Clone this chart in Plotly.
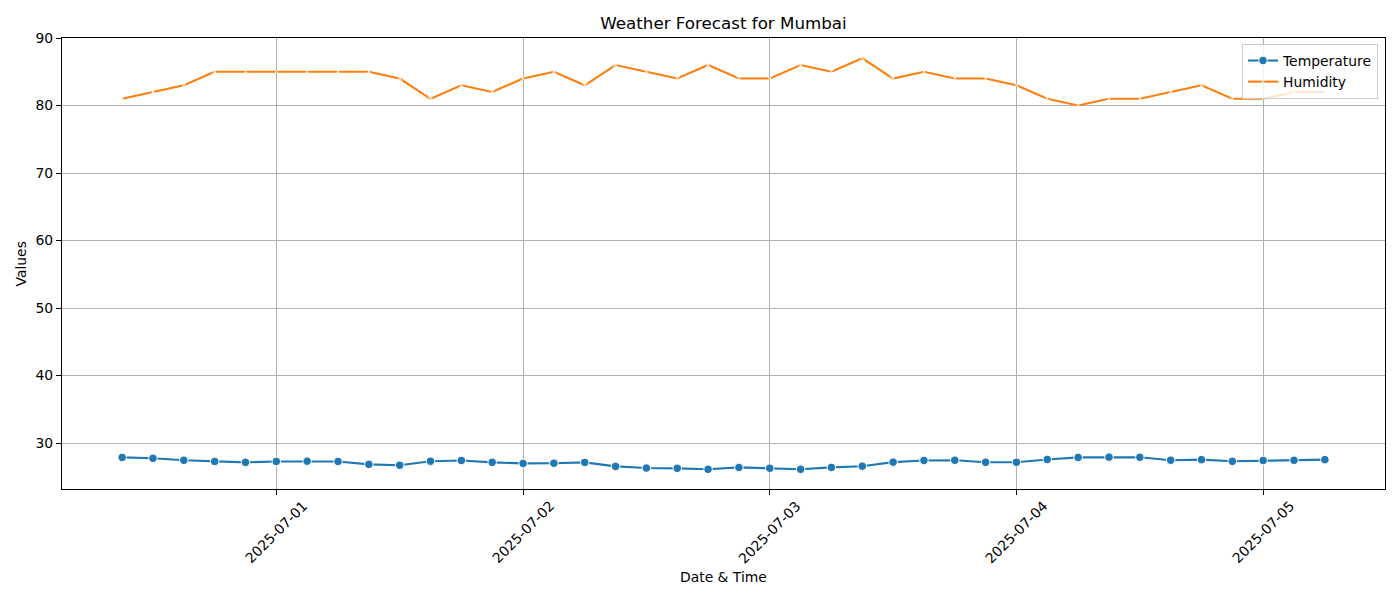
import plotly.graph_objects as go

times = [
    "2025-06-30 09:00", "2025-06-30 12:00", "2025-06-30 15:00", "2025-06-30 18:00", "2025-06-30 21:00",
    "2025-07-01 00:00", "2025-07-01 03:00", "2025-07-01 06:00", "2025-07-01 09:00", "2025-07-01 12:00",
    "2025-07-01 15:00", "2025-07-01 18:00", "2025-07-01 21:00", "2025-07-02 00:00", "2025-07-02 03:00",
    "2025-07-02 06:00", "2025-07-02 09:00", "2025-07-02 12:00", "2025-07-02 15:00", "2025-07-02 18:00",
    "2025-07-02 21:00", "2025-07-03 00:00", "2025-07-03 03:00", "2025-07-03 06:00", "2025-07-03 09:00",
    "2025-07-03 12:00", "2025-07-03 15:00", "2025-07-03 18:00", "2025-07-03 21:00", "2025-07-04 00:00",
    "2025-07-04 03:00", "2025-07-04 06:00", "2025-07-04 09:00", "2025-07-04 12:00", "2025-07-04 15:00",
    "2025-07-04 18:00", "2025-07-04 21:00", "2025-07-05 00:00", "2025-07-05 03:00", "2025-07-05 06:00",
]

temperature = [
    27.88, 27.75, 27.45, 27.28, 27.15, 27.28, 27.32, 27.28, 26.85, 26.72,
    27.32, 27.42, 27.15, 26.99, 27.02, 27.14, 26.55, 26.30, 26.26, 26.12,
    26.40, 26.28, 26.12, 26.40, 26.58, 27.18, 27.43, 27.45, 27.16, 27.16,
    27.58, 27.88, 27.92, 27.90, 27.46, 27.55, 27.30, 27.42, 27.45, 27.55,
]

humidity = [
    81, 82, 83, 85, 85, 85, 85, 85, 85, 84,
    81, 83, 82, 84, 85, 83, 86, 85, 84, 86,
    84, 84, 86, 85, 87, 84, 85, 84, 84, 83,
    81, 80, 81, 81, 82, 83, 81, 81, 82, 82,
]

tick_dates = ["2025-07-01", "2025-07-02", "2025-07-03", "2025-07-04", "2025-07-05"]
y_ticks = [30, 40, 50, 60, 70, 80, 90]

FONT = "DejaVu Sans"
fs = 13.9

fig = go.Figure()
fig.add_trace(go.Scatter(
    x=times, y=temperature, mode="lines+markers", name="Temperature",
    line=dict(color="#1f77b4", width=2.1),
    marker=dict(symbol="circle", size=8.5, color="#1f77b4", line=dict(color="white", width=1)),
))
fig.add_trace(go.Scatter(
    x=times, y=humidity, mode="lines+markers", name="Humidity",
    line=dict(color="#ff7f0e", width=2.1),
    marker=dict(symbol="x-thin", size=5, color="white", line=dict(color="white", width=1)),
))

annotations = []
for d in tick_dates:
    annotations.append(dict(
        x=d, y=0, xref="x", yref="paper", text=d, showarrow=False,
        textangle=-45, xanchor="center", yanchor="top", yshift=-6,
        font=dict(family=FONT, size=fs, color="black"),
    ))
annotations.append(dict(
    x=0.5, y=-0.195, xref="paper", yref="paper", text="Date & Time", showarrow=False,
    xanchor="center", yanchor="middle", font=dict(family=FONT, size=fs, color="black"),
))
annotations.append(dict(
    x=-0.031, y=0.5, xref="paper", yref="paper", text="Values", showarrow=False,
    textangle=-90, xanchor="center", yanchor="middle", font=dict(family=FONT, size=fs, color="black"),
))

fig.update_layout(
    width=1400, height=600,
    margin=dict(l=62, r=15, t=38, b=111),
    paper_bgcolor="white", plot_bgcolor="white",
    font=dict(family=FONT, size=fs, color="black"),
    title=dict(text="Weather Forecast for Mumbai", x=0.5, xref="paper", xanchor="center",
               y=1 - 23 / 600, yref="container", yanchor="middle",
               font=dict(family=FONT, size=16.7, color="black")),
    showlegend=True,
    legend=dict(x=0.9947, y=0.9867, xanchor="right", yanchor="top",
                bgcolor="rgba(255,255,255,0.8)", bordercolor="#cccccc", borderwidth=1,
                font=dict(family=FONT, size=fs, color="black"), tracegroupgap=0),
    annotations=annotations,
    xaxis=dict(
        type="date", range=["2025-06-30 03:09", "2025-07-05 11:51"],
        tickmode="array", tickvals=tick_dates, ticktext=["" for _ in tick_dates],
        showgrid=True, gridcolor="#b0b0b0", gridwidth=1,
        showline=True, linecolor="black", linewidth=1, mirror=True,
        ticks="outside", ticklen=5, tickcolor="black", zeroline=False,
    ),
    yaxis=dict(
        range=[23.2, 90.0], tickmode="array", tickvals=y_ticks,
        showgrid=True, gridcolor="#b0b0b0", gridwidth=1,
        showline=True, linecolor="black", linewidth=1, mirror=True,
        ticks="outside", ticklen=5, tickcolor="black", zeroline=False,
        tickfont=dict(family=FONT, size=fs, color="black"),
    ),
)

fig.write_html("out.html", config={"displayModeBar": False},
               post_script="document.body.style.margin='0';document.body.style.overflow='hidden';")
